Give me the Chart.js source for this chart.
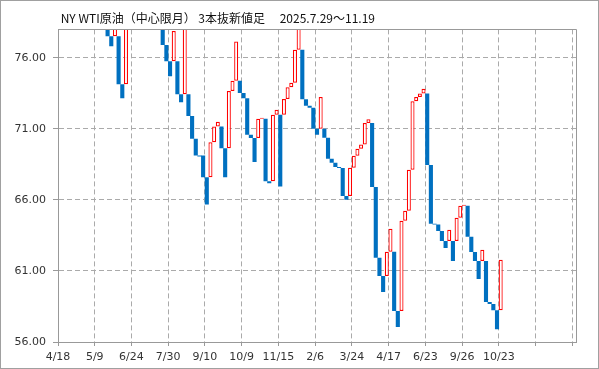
<!DOCTYPE html>
<html>
<head>
<meta charset="utf-8">
<script src="https://cdn.jsdelivr.net/npm/chart.js@4.4.1/dist/chart.umd.min.js"></script>
<style>
  html, body { margin: 0; padding: 0; background: #fff; }
  canvas { display: block; }
</style>
</head>
<body>
<canvas id="myChart" width="599" height="369"></canvas>
<script>
// 3本抜新値足: each slot is one line, open -> close (null = outside the window)
const opens = [
  null, null, null, null, null, null, null, null, null, null,
  null, 78.4, null, 78.4, 77.52, 77.52, 77.52, 74.14, 74.14, null,
  null, null, null, null, null, null, null, null, 78.4, 76.91,
  75.76, 75.76, 75.76, 73.44, 73.44, 73.44, 71.90, 70.30, 69.13, 69.13,
  67.60, 67.60, 70.06, 71.17, 71.17, 69.64, 69.64, 73.67, 74.38, 74.38,
  73.53, 73.16, 70.58, 70.35, 70.35, 71.71, 71.71, 67.32, 67.32, 71.99,
  71.99, 71.99, 73.11, 73.93, 74.24, 76.56, 76.56, 73.09, 72.62, 72.48,
  71.00, 71.00, 71.00, 70.37, 68.89, 68.61, 68.31, 68.24, 66.27, 66.27,
  68.26, 69.10, 69.60, 69.90, 71.42, 71.42, 66.90, 61.93, 60.64, 60.64,
  62.35, 62.35, 58.18, 58.18, 64.53, 65.24, 68.12, 72.95, 73.25, 73.49,
  73.49, 68.45, 64.32, 64.27, 63.81, 63.10, 63.10, 63.10, 63.10, 64.74,
  65.59, 65.59, 63.41, 62.33, 61.70, 61.70, 61.70, 58.81, 58.67, 58.23,
  58.23
];
const closes = [
  null, null, null, null, null, null, null, null, null, null,
  null, 77.95, null, 77.52, 76.82, 78.4, 74.14, 73.16, 78.6, null,
  null, null, null, null, null, null, null, null, 76.91, 75.76,
  74.71, 77.89, 73.44, 72.88, 78.4, 71.90, 70.30, 69.13, 69.06, 67.60,
  65.68, 70.06, 71.17, 71.50, 69.64, 67.60, 73.67, 74.38, 77.14, 73.53,
  73.16, 70.58, 70.35, 68.66, 71.71, 71.78, 67.32, 67.18, 71.99, 72.34,
  66.95, 73.11, 73.93, 74.24, 76.56, 78.4, 73.09, 72.62, 72.48, 71.00,
  70.58, 73.25, 70.37, 68.89, 68.61, 68.31, 68.24, 66.27, 66.01, 68.26,
  69.10, 69.60, 69.90, 71.42, 71.68, 66.90, 61.93, 60.64, 59.52, 62.35,
  63.97, 58.18, 57.05, 64.53, 65.24, 68.12, 72.95, 73.25, 73.49, 73.82,
  68.45, 64.32, 64.27, 63.81, 63.10, 62.61, 63.90, 61.70, 64.74, 65.59,
  65.66, 63.41, 62.33, 61.70, 60.43, 62.49, 58.81, 58.67, 58.23, 56.89,
  61.79
];
const dateLabels = ['4/18', '5/9', '6/24', '7/30', '9/10', '10/9', '11/15', '2/6',
  '3/24', '4/17', '6/23', '9/26', '10/23', '', ''];
const yTicks = [56, 61, 66, 71, 76];
const slotCount = 141;

const UP = '#ff0000';
const DOWN = '#0070c0';
const tickFont = { family: 'DejaVu Sans', size: 11 };

// split the lines into rising (hollow red) and falling (solid blue)
const upBars = [];
const downBars = [];
opens.forEach((o, i) => {
  const c = closes[i];
  if (o === null || c === null) return;
  (c > o ? upBars : downBars).push({ x: i + 0.5, y: [o, c] });
});

// white background, outer frame, top/right plot border
const framePlugin = {
  id: 'frame',
  beforeDraw(chart) {
    const ctx = chart.ctx;
    ctx.save();
    ctx.fillStyle = '#fff';
    ctx.fillRect(0, 0, chart.width, chart.height);
    ctx.restore();
  },
  afterDraw(chart) {
    const ctx = chart.ctx;
    const a = chart.chartArea;
    ctx.save();
    ctx.strokeStyle = '#999';
    ctx.lineWidth = 1;
    ctx.beginPath();
    ctx.moveTo(Math.round(a.left) + 0.5, Math.round(a.top) + 0.5);
    ctx.lineTo(Math.round(a.right) + 0.5, Math.round(a.top) + 0.5);
    ctx.lineTo(Math.round(a.right) + 0.5, Math.round(a.bottom) + 0.5);
    ctx.stroke();
    ctx.strokeStyle = '#a0a0a0';
    ctx.strokeRect(0.5, 0.5, chart.width - 1, chart.height - 1);
    ctx.restore();
  }
};

const ctx = document.getElementById('myChart').getContext('2d');
const myChart = new Chart(ctx, {
  type: 'bar',
  data: {
    datasets: [{
      data: downBars,
      grouped: false,
      barPercentage: 1.12,
      categoryPercentage: 1,
      borderWidth: 0,
      backgroundColor: DOWN
    }, {
      data: upBars,
      grouped: false,
      barPercentage: 1.1,
      categoryPercentage: 1,
      borderSkipped: false,
      borderWidth: 1.25,
      borderColor: UP,
      backgroundColor: '#fff'
    }]
  },
  options: {
    responsive: false,
    animation: false,
    layout: { padding: { left: 0, right: 23, top: 0, bottom: 3 } },
    plugins: {
      legend: { display: false },
      tooltip: { enabled: false },
      title: {
        display: true,
        text: ' NY WTI原油（中心限月） 3本抜新値足　 2025.7.29〜11.19',
        align: 'start',
        fullSize: false,
        color: '#111',
        font: { family: "'Noto Sans CJK JP'", size: 12, weight: 'normal' },
        padding: { top: 11, bottom: 4 }
      }
    },
    scales: {
      x: {
        type: 'linear',
        min: 0,
        max: slotCount,
        offset: false,
        afterBuildTicks: s => { s.ticks = dateLabels.map((d, k) => ({ value: k * 10 })); },
        afterFit: s => { s.height = 24; },
        grid: { offset: false, color: '#aaa', tickColor: '#999', tickLength: 4 },
        border: { color: '#999', dash: [5, 3] },
        ticks: {
          autoSkip: false,
          maxRotation: 0,
          padding: 5,
          color: '#333',
          font: tickFont,
          callback: v => dateLabels[Math.round(v / 10)]
        }
      },
      y: {
        min: 56,
        max: 78,
        afterBuildTicks: s => { s.ticks = yTicks.map(v => ({ value: v })); },
        afterFit: s => { s.width = 58; },
        grid: { color: '#aaa', tickColor: '#999', tickLength: 5 },
        border: { color: '#999', dash: [5, 3] },
        ticks: {
          padding: 7,
          color: '#333',
          font: tickFont,
          callback: v => v.toFixed(2)
        }
      }
    }
  },
  plugins: [framePlugin]
});
</script>
</body>
</html>
